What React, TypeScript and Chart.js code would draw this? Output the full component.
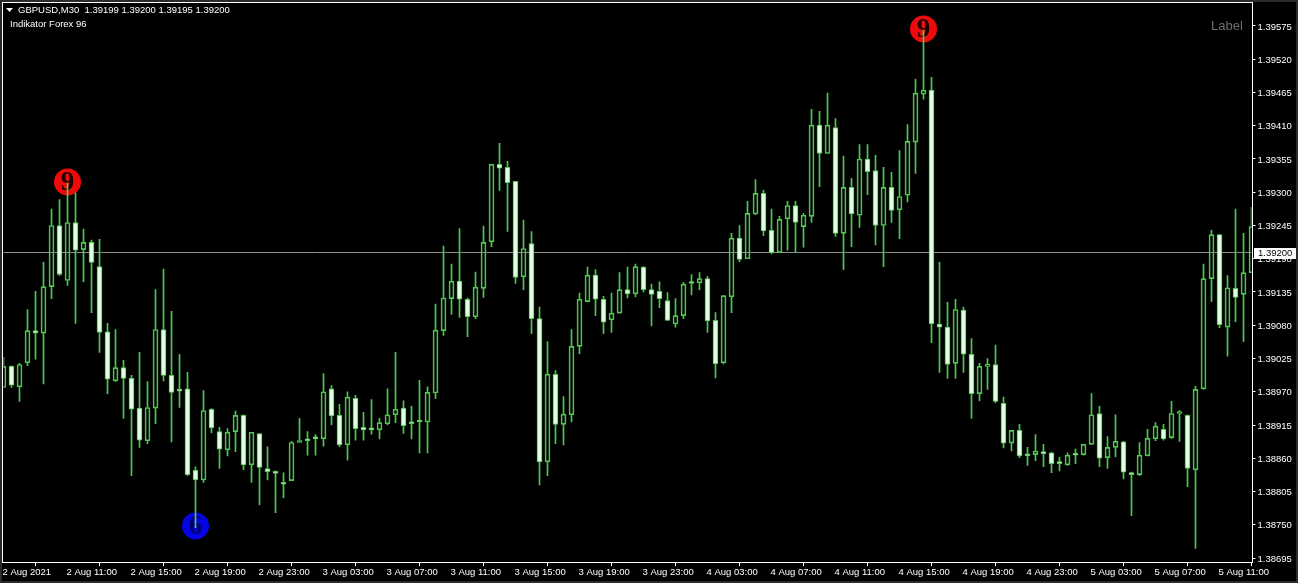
import React, { useEffect, useRef } from "react";
import { Chart, registerables } from "chart.js";

Chart.register(...registerables);

const opens = [
1.38977,1.39012,1.38978,1.39018,1.39071,1.39067,1.39144,1.39245,1.39154,1.39250,
1.39205,1.39217,1.39177,1.39069,1.38988,1.39010,1.38992,1.38943,1.38889,1.38943,
1.39073,1.38997,1.38972,1.38975,1.38840,1.38824,1.38941,1.38904,1.38874,1.38904,
1.38931,1.38849,1.38901,1.38843,1.38838,1.38818,1.38823,1.38886,1.38891,1.38894,
1.38892,1.38975,1.38931,1.38882,1.38959,1.38911,1.38908,1.38907,1.38917,1.38932,
1.38943,1.38918,1.38922,1.38920,1.38968,1.39071,1.39124,1.39153,1.39123,1.39094,
1.39141,1.39218,1.39346,1.39341,1.39318,1.39160,1.39215,1.39091,1.38854,1.38999,
1.38916,1.38932,1.39045,1.39119,1.39163,1.39123,1.39089,1.39100,1.39139,1.39132,
1.39176,1.39139,1.39136,1.39121,1.39082,1.39096,1.39151,1.39150,1.39157,1.39088,
1.39018,1.39127,1.39224,1.39190,1.39264,1.39298,1.39237,1.39200,1.39256,1.39278,
1.39243,1.39260,1.39411,1.39364,1.39407,1.39232,1.39308,1.39262,1.39355,1.39336,
1.39245,1.39308,1.39271,1.39295,1.39383,1.39462,1.39469,1.39082,1.39077,1.39017,
1.39105,1.39032,1.38967,1.39012,1.39015,1.38951,1.38885,1.38906,1.38865,1.38866,
1.38871,1.38869,1.38853,1.38849,1.38866,1.38866,1.38883,1.38934,1.38861,1.38878,
1.38887,1.38836,1.38833,1.38864,1.38892,1.38908,1.38894,1.38934,1.38931,1.38841,
1.38975,1.39157,1.39230,1.39077,1.39141,1.39131,1.39167];

const highs = [
1.39027,1.39013,1.39017,1.39106,1.39136,1.39184,1.39272,1.39288,1.39315,1.39299,
1.39239,1.39221,1.39222,1.39083,1.39073,1.39022,1.38997,1.39035,1.38987,1.39139,
1.39173,1.39103,1.39032,1.39002,1.38846,1.38972,1.38942,1.38911,1.38909,1.38938,
1.38932,1.38903,1.38901,1.38879,1.38839,1.38836,1.38888,1.38926,1.38904,1.38899,
1.39000,1.38980,1.38949,1.38970,1.38964,1.38936,1.38957,1.38926,1.38975,1.39035,
1.38955,1.38946,1.38989,1.38978,1.39115,1.39211,1.39181,1.39240,1.39125,1.39168,
1.39244,1.39346,1.39381,1.39351,1.39318,1.39254,1.39235,1.39110,1.39053,1.39005,
1.38962,1.39073,1.39133,1.39176,1.39172,1.39128,1.39133,1.39167,1.39176,1.39181,
1.39177,1.39148,1.39152,1.39134,1.39124,1.39151,1.39164,1.39167,1.39161,1.39101,
1.39129,1.39232,1.39245,1.39285,1.39321,1.39303,1.39272,1.39260,1.39285,1.39285,
1.39265,1.39437,1.39434,1.39464,1.39422,1.39360,1.39323,1.39379,1.39379,1.39361,
1.39341,1.39333,1.39369,1.39412,1.39487,1.39568,1.39490,1.39184,1.39118,1.39123,
1.39110,1.39058,1.39017,1.39025,1.39047,1.38961,1.38906,1.38916,1.38878,1.38899,
1.38883,1.38870,1.38861,1.38869,1.38875,1.38883,1.38967,1.38946,1.38896,1.38932,
1.38888,1.38837,1.38886,1.38908,1.38919,1.38916,1.38954,1.38939,1.38932,1.38979,
1.39181,1.39237,1.39230,1.39162,1.39272,1.39232,1.39275];

const lows = [
1.38977,1.38977,1.38954,1.39013,1.39024,1.38983,1.39124,1.39162,1.39146,1.39083,
1.39152,1.39101,1.39035,1.38967,1.38987,1.38926,1.38831,1.38878,1.38884,1.38917,
1.38988,1.38887,1.38944,1.38831,1.38745,1.38820,1.38902,1.38843,1.38864,1.38871,
1.38841,1.38820,1.38783,1.38824,1.38770,1.38795,1.38823,1.38886,1.38865,1.38865,
1.38880,1.38915,1.38879,1.38857,1.38890,1.38890,1.38900,1.38892,1.38915,1.38919,
1.38901,1.38892,1.38869,1.38869,1.38959,1.39063,1.39098,1.39093,1.39061,1.39091,
1.39126,1.39210,1.39303,1.39235,1.39149,1.39139,1.39066,1.38816,1.38831,1.38884,
1.38882,1.38920,1.39033,1.39119,1.39096,1.39066,1.39068,1.39100,1.39125,1.39127,
1.39135,1.39079,1.39109,1.39088,1.39077,1.39091,1.39130,1.39139,1.39068,1.38993,
1.39016,1.39101,1.39185,1.39190,1.39263,1.39228,1.39198,1.39200,1.39204,1.39200,
1.39209,1.39250,1.39309,1.39364,1.39227,1.39172,1.39210,1.39242,1.39296,1.39213,
1.39177,1.39250,1.39223,1.39284,1.39331,1.39454,1.39051,1.39002,1.38992,1.38992,
1.39002,1.38926,1.38955,1.38974,1.38952,1.38877,1.38872,1.38861,1.38848,1.38856,
1.38846,1.38836,1.38839,1.38848,1.38851,1.38865,1.38883,1.38846,1.38843,1.38862,
1.38826,1.38765,1.38831,1.38864,1.38889,1.38890,1.38893,1.38888,1.38813,1.38711,
1.38974,1.39119,1.39076,1.39029,1.39086,1.39053,1.39167];

const closes = [
1.39012,1.38981,1.39015,1.39071,1.39067,1.39144,1.39245,1.39164,1.39250,1.39204,
1.39217,1.39184,1.39068,1.38991,1.39010,1.38992,1.38941,1.38890,1.38944,1.39073,
1.38997,1.38969,1.38971,1.38833,1.38824,1.38939,1.38910,1.38875,1.38903,1.38931,
1.38849,1.38903,1.38845,1.38838,1.38835,1.38817,1.38886,1.38889,1.38889,1.38892,
1.38970,1.38930,1.38882,1.38961,1.38909,1.38907,1.38907,1.38919,1.38932,1.38941,
1.38914,1.38917,1.38920,1.38969,1.39072,1.39125,1.39153,1.39123,1.39094,1.39143,
1.39217,1.39346,1.39340,1.39316,1.39159,1.39207,1.39091,1.38854,1.38999,1.38916,
1.38933,1.39045,1.39123,1.39163,1.39123,1.39085,1.39100,1.39139,1.39132,1.39177,
1.39139,1.39131,1.39124,1.39088,1.39096,1.39148,1.39149,1.39157,1.39087,1.39016,
1.39129,1.39224,1.39189,1.39265,1.39298,1.39236,1.39200,1.39255,1.39278,1.39250,
1.39262,1.39411,1.39364,1.39411,1.39232,1.39308,1.39264,1.39355,1.39334,1.39245,
1.39308,1.39270,1.39293,1.39384,1.39464,1.39469,1.39082,1.39077,1.39015,1.39106,
1.39032,1.38967,1.39012,1.39015,1.38954,1.38885,1.38906,1.38864,1.38864,1.38872,
1.38867,1.38851,1.38851,1.38865,1.38865,1.38883,1.38932,1.38860,1.38878,1.38888,
1.38837,1.38833,1.38865,1.38893,1.38913,1.38892,1.38934,1.38937,1.38843,1.38974,
1.39157,1.39230,1.39081,1.39142,1.39126,1.39167,1.39243];

const timeLabels = [
"2 Aug 2021","2 Aug 11:00","2 Aug 15:00","2 Aug 19:00","2 Aug 23:00",
"3 Aug 03:00","3 Aug 07:00","3 Aug 11:00","3 Aug 15:00","3 Aug 19:00","3 Aug 23:00",
"4 Aug 03:00","4 Aug 07:00","4 Aug 11:00","4 Aug 15:00","4 Aug 19:00","4 Aug 23:00",
"5 Aug 03:00","5 Aug 07:00","5 Aug 11:00"];
const candlesPerLabel = 8;

const priceTicks = [
1.39575,1.39520,1.39465,1.39410,1.39355,1.39300,1.39245,1.39190,1.39135,
1.39080,1.39025,1.38970,1.38915,1.38860,1.38805,1.38750,1.38695];

const currentPrice = 1.392;
const priceMax = 1.39613;
const priceMin = 1.386884;

const signalIndex = [8, 24, 115];
const signalPrice = [1.39317, 1.38748, 1.3957];
const signalText = ["9", "6", "9"];
const signalColor = ["#ee0a0a", "#0404e4", "#ee0a0a"];
const signalInk = ["#1c0000", "#00006a", "#1c0000"];

const headerLine = "GBPUSD,M30  1.39199 1.39200 1.39195 1.39200";
const indicatorName = "Indikator Forex 96";
const cornerLabel = "Label";

const GREEN = "#50c850";
const FILL = "#e0ffe0";
const UI_FONT = '"Liberation Sans", sans-serif';

const categories = opens.map((_, i) => (i % candlesPerLabel === 0 ? timeLabels[i / candlesPerLabel] : ""));
const signalSeries = opens.map((_, i) => {
  const k = signalIndex.indexOf(i);
  return k >= 0 ? signalPrice[k] : null;
});
const signalFill = opens.map((_, i) => {
  const k = signalIndex.indexOf(i);
  return k >= 0 ? signalColor[k] : "transparent";
});

const mt4Plugin = {
  id: "mt4",
  beforeDraw(chart: any) {
    const { ctx, width, height } = chart;
    ctx.save();
    ctx.fillStyle = "#2b2b2b";
    ctx.fillRect(0, 0, width, height);
    ctx.fillStyle = "#000";
    ctx.fillRect(2, 2, width - 4, height - 4);
    ctx.restore();
  },
  beforeDatasetsDraw(chart: any) {
    const { ctx, chartArea, scales } = chart;
    const y = Math.floor(scales.y.getPixelForValue(currentPrice)) + 0.5;
    ctx.save();
    ctx.strokeStyle = "#8c8c8c";
    ctx.lineWidth = 1;
    ctx.beginPath();
    ctx.moveTo(chartArea.left, y);
    ctx.lineTo(chartArea.right, y);
    ctx.stroke();
    ctx.restore();
  },
  afterDatasetDraw(chart: any, args: any) {
    if (chart.data.datasets[args.index]?.label !== "signals") return;
    const { ctx, scales } = chart;
    ctx.save();
    ctx.font = 'bold 27px "Liberation Serif", serif';
    ctx.textAlign = "center";
    ctx.textBaseline = "middle";
    signalIndex.forEach((idx, k) => {
      ctx.fillStyle = signalInk[k];
      ctx.fillText(signalText[k], scales.x.getPixelForValue(idx), scales.y.getPixelForValue(signalPrice[k]) + 1);
    });
    ctx.restore();
  },
  afterDraw(chart: any) {
    const { ctx, chartArea, scales, width } = chart;
    const r = Math.round(chartArea.right);
    const b = Math.round(chartArea.bottom);
    ctx.save();
    ctx.fillStyle = "#fff";
    ctx.fillRect(2, 2, r - 1, 1);
    ctx.fillRect(2, 2, 1, b - 1);
    ctx.fillRect(r, 2, 1, b - 1);
    ctx.fillRect(2, b, r - 1, 1);

    ctx.textBaseline = "middle";
    ctx.textAlign = "left";
    ctx.font = `9.5px ${UI_FONT}`;
    ctx.fillStyle = "#fff";
    ctx.beginPath();
    ctx.moveTo(6, 8);
    ctx.lineTo(13, 8);
    ctx.lineTo(9.5, 12);
    ctx.closePath();
    ctx.fill();
    ctx.fillText(headerLine, 18, 10.5);
    ctx.fillText(indicatorName, 10, 24.5);

    ctx.font = `13px ${UI_FONT}`;
    ctx.fillStyle = "#6e6e6e";
    ctx.fillText(cornerLabel, 1211, 26.5);

    const y = scales.y.getPixelForValue(currentPrice);
    ctx.fillStyle = "#fff";
    ctx.fillRect(r + 2, Math.round(y) - 5, width - r - 4, 11);
    ctx.fillStyle = "#000";
    ctx.font = `9.5px ${UI_FONT}`;
    ctx.fillText(currentPrice.toFixed(5), 1258, y + 0.5);
    ctx.restore();
  },
};

export default function App() {
  const ref = useRef<HTMLCanvasElement>(null);
  useEffect(() => {
    document.body.style.margin = "0";
    document.body.style.background = "#000";
    const chart = new Chart(ref.current as HTMLCanvasElement, {
      type: "bar",
      data: {
        labels: categories,
        datasets: [
          {
            type: "line",
            label: "signals",
            data: signalSeries,
            showLine: false,
            pointRadius: 13.5,
            pointHoverRadius: 13.5,
            pointBorderWidth: 0,
            pointBackgroundColor: signalFill,
            pointBorderColor: "transparent",
            order: 4,
          },
          {
            label: "upper wick",
            data: opens.map((o, i) => [Math.max(o, closes[i]), highs[i]]),
            backgroundColor: GREEN,
            barThickness: 1,
            grouped: false,
            order: 3,
          },
          {
            label: "lower wick",
            data: opens.map((o, i) => [lows[i], Math.min(o, closes[i])]),
            backgroundColor: GREEN,
            barThickness: 1,
            grouped: false,
            order: 2,
          },
          {
            label: "body",
            data: opens.map((o, i) => [o, closes[i]]),
            backgroundColor: opens.map((o, i) => (closes[i] >= o ? "transparent" : FILL)),
            borderColor: GREEN,
            borderWidth: 1,
            borderSkipped: false,
            barThickness: 5,
            minBarLength: 2,
            grouped: false,
            order: 1,
          },
        ] as any,
      },
      options: {
        animation: false,
        responsive: false,
        events: [],
        layout: { autoPadding: false, padding: { left: 3.5, top: 3, right: 0, bottom: 0 } },
        plugins: { legend: { display: false }, tooltip: { enabled: false }, title: { display: false } },
        scales: {
          x: {
            type: "category",
            offset: false,
            grid: { display: true, drawOnChartArea: false, drawTicks: true, tickLength: 4, color: "#fff" },
            border: { display: false },
            ticks: {
              autoSkip: false,
              maxRotation: 0,
              minRotation: 0,
              align: "start",
              padding: 1,
              labelOffset: -1,
              color: "#fff",
              font: { family: "Liberation Sans", size: 9.5 },
            },
            afterBuildTicks(s: any) {
              s.ticks = s.ticks.filter((t: any) => t.value % candlesPerLabel === 0);
            },
            afterFit(s: any) {
              s.height = 21;
              s.paddingLeft = 0;
              s.paddingRight = 0;
            },
          },
          y: {
            type: "linear",
            position: "right",
            min: priceMin,
            max: priceMax,
            grid: { display: true, drawOnChartArea: false, drawTicks: true, tickLength: 4, color: "#fff" },
            border: { display: false },
            ticks: {
              padding: 2,
              labelOffset: 1,
              color: "#fff",
              align: "center",
              crossAlign: "near",
              font: { family: "Liberation Sans", size: 9.5 },
              callback: (v: any) => Number(v).toFixed(5),
            },
            afterBuildTicks(s: any) {
              s.ticks = priceTicks.map((value) => ({ value }));
            },
            afterFit(s: any) {
              s.width = 46.5;
              s.paddingTop = 0;
              s.paddingBottom = 0;
            },
          },
        },
      } as any,
      plugins: [mt4Plugin],
    } as any);
    return () => chart.destroy();
  }, []);
  return <canvas ref={ref} width={1298} height={583} style={{ display: "block" }} />;
}
